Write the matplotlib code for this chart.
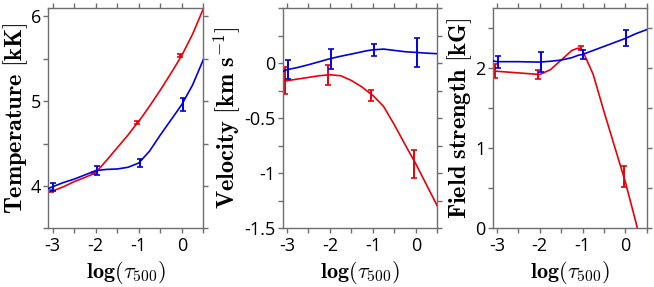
import matplotlib
matplotlib.use("Agg")
import matplotlib.pyplot as plt
from matplotlib.ticker import MultipleLocator

plt.rcParams['mathtext.fontset'] = 'cm'
plt.rcParams['axes.unicode_minus'] = False
plt.rcParams['font.family'] = ['Open Sans', 'DejaVu Sans']

# Sample points (log tau500)
tau_red = [-3.04, -2.04, -1.04, -0.04]
tau_blue = [-2.98, -1.98, -0.98, 0.02]

# Temperature [kK]
T_red = [3.94, 4.156, 4.75, 5.54]
T_red_err = [0.015, 0.012, 0.015, 0.02]
T_blue = [3.99, 4.18, 4.27, 4.96]
T_blue_err = [0.05, 0.055, 0.047, 0.075]

# Velocity [km/s]
V_red = [-0.16, -0.106, -0.294, -0.915]
V_red_err = [0.125, 0.09, 0.05, 0.13]
V_blue = [-0.06, 0.04, 0.12, 0.097]
V_blue_err = [0.088, 0.09, 0.055, 0.13]

# Field strength [kG]
B_red = [1.96, 1.92, 2.25, 0.65]
B_red_err = [0.085, 0.06, 0.03, 0.13]
B_blue = [2.08, 2.075, 2.17, 2.37]
B_blue_err = [0.075, 0.125, 0.055, 0.1]

# Smooth model curves
tau_curve = [-3.1, -3.0, -2.75, -2.5, -2.25, -2.0, -1.75, -1.5, -1.25, -1.1, -1.0,
             -0.75, -0.5, -0.25, 0.0, 0.25, 0.5]
T_red_curve = [3.93, 3.94, 3.99, 4.05, 4.10, 4.156, 4.30, 4.45, 4.60, 4.70, 4.76,
               4.94, 5.13, 5.33, 5.54, 5.79, 6.09]
T_blue_curve = [3.97, 3.99, 4.04, 4.08, 4.13, 4.18, 4.195, 4.20, 4.22, 4.25, 4.27,
                4.41, 4.60, 4.78, 4.96, 5.19, 5.49]
V_red_curve = [-0.167, -0.16, -0.145, -0.13, -0.115, -0.106, -0.115, -0.158, -0.218, -0.265, -0.294,
               -0.394, -0.56, -0.74, -0.915, -1.106, -1.297]
V_blue_curve = [-0.076, -0.06, -0.04, -0.015, 0.012, 0.04, 0.062, 0.082, 0.103, 0.115, 0.12,
                0.127, 0.115, 0.103, 0.097, 0.09, 0.085]
B_red_curve = [1.97, 1.96, 1.95, 1.94, 1.93, 1.92, 1.98, 2.10, 2.22, 2.25, 2.22,
               1.92, 1.46, 1.02, 0.58, 0.07, -0.5]
B_blue_curve = [2.09, 2.08, 2.08, 2.08, 2.077, 2.075, 2.085, 2.10, 2.13, 2.16, 2.17,
                2.22, 2.27, 2.32, 2.37, 2.43, 2.48]

xticks = [-3, -2, -1, 0]
xtick_labels = ['-3', '-2', '-1', '0']

RED = '#e8000b'
BLUE = '#0000dd'
SPINE = '#6e6e6e'

fig = plt.figure(figsize=(6.54, 2.87), dpi=100)
W, H = 654, 287

def make_ax(l, r, t=8, b=228.3):
    return fig.add_axes([l / W, 1 - b / H, (r - l) / W, (b - t) / H])

axes = [make_ax(48.3, 203.3), make_ax(282.7, 437.3), make_ax(492.7, 646.7)]

panels = [
    (T_red_curve, T_blue_curve, T_red, T_red_err, T_blue, T_blue_err,
     (3.5, 6.1), 1.0, 0.5, [4, 5, 6], ['4', '5', '6'],
     r'$\mathbf{Temperature\ [kK]}$'),
    (V_red_curve, V_blue_curve, V_red, V_red_err, V_blue, V_blue_err,
     (-1.5, 0.5), 0.5, 0.25, [-1.5, -1, -0.5, 0], ['-1.5', '-1', '-0.5', '0'],
     r'$\mathbf{Velocity\ [km\ s}^{\mathbf{-1}}\mathbf{]}$'),
    (B_red_curve, B_blue_curve, B_red, B_red_err, B_blue, B_blue_err,
     (0, 2.75), 1.0, 0.5, [0, 1, 2], ['0', '1', '2'],
     r'$\mathbf{Field\ strength\ [kG]}$'),
]

for ax, (rc, bc, rv, re, bv, be, ylim, ymaj, ymin, yt, ytl, ylab) in zip(axes, panels):
    ax.plot(tau_curve, rc, color=RED, lw=1.2, zorder=2)
    ax.plot(tau_curve, bc, color=BLUE, lw=1.2, zorder=3)
    ax.errorbar(tau_red, rv, yerr=re, fmt='none', ecolor=RED, elinewidth=1.4,
                capsize=2.2, capthick=1.2, zorder=2)
    ax.errorbar(tau_blue, bv, yerr=be, fmt='none', ecolor=BLUE, elinewidth=1.4,
                capsize=2.2, capthick=1.2, zorder=3)
    ax.set_xlim(-3.1, 0.5)
    ax.set_ylim(*ylim)
    ax.set_xticks(xticks)
    ax.set_xticklabels(xtick_labels)
    ax.xaxis.set_minor_locator(MultipleLocator(0.5))
    ax.set_yticks(yt)
    ax.set_yticklabels(ytl)
    ax.yaxis.set_minor_locator(MultipleLocator(ymin))
    ax.tick_params(which='both', direction='out', top=True, right=True,
                   color=SPINE, width=1.0, labelsize=13, pad=1.5)
    ax.tick_params(axis='x', which='both', pad=2.5)
    ax.tick_params(which='major', length=3.5)
    ax.tick_params(which='minor', length=3.5)
    for s in ax.spines.values():
        s.set_color(SPINE)
        s.set_linewidth(1.0)
    ax.set_xlabel(r'$\mathbf{log}(\tau_{500})$', fontsize=16, labelpad=3)
    ax.set_ylabel(ylab, fontsize=17.5, labelpad=1)

fig.savefig('out.png', dpi=100)
